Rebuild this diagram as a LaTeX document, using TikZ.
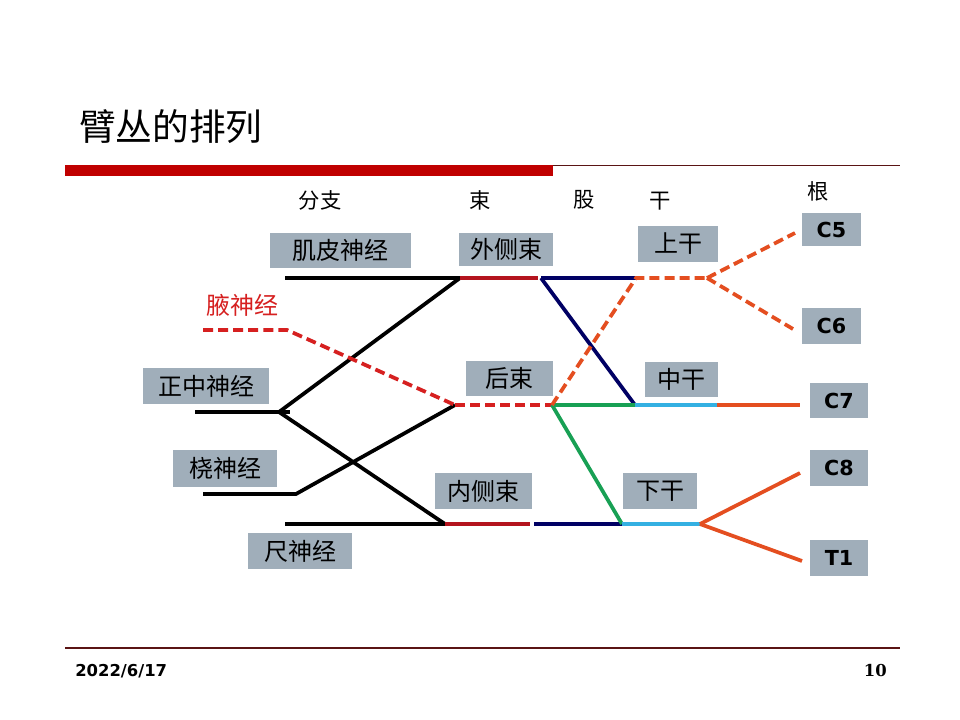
\documentclass[tikz,border=0pt]{standalone}
\usepackage{fontspec}
\newfontfamily\cjk{Noto Sans CJK SC}
\newfontfamily\lat{DejaVu Sans}
\newfontfamily\latserif{DejaVu Serif}
\definecolor{boxgray}{RGB}{160,174,186}
\definecolor{barred}{RGB}{192,0,0}
\definecolor{axred}{RGB}{214,32,32}
\definecolor{cordred}{RGB}{180,20,30}
\definecolor{rootor}{RGB}{228,78,32}
\definecolor{navyc}{RGB}{0,0,100}
\definecolor{greenc}{RGB}{24,160,84}
\definecolor{cyanc}{RGB}{52,176,226}
\definecolor{rulec}{RGB}{90,20,20}
\tikzset{
  box/.style={fill=boxgray, inner sep=0pt, font=\cjk\fontsize{18pt}{20pt}\selectfont},
  rbox/.style={fill=boxgray, inner sep=0pt, font=\lat\bfseries\fontsize{15.5pt}{17pt}\selectfont},
  hdr/.style={font=\cjk\fontsize{16pt}{18pt}\selectfont, inner sep=0pt},
  ln/.style={line width=2.8pt},
  dsh/.style={line width=2.8pt, dash pattern=on 7.5pt off 3.8pt},
}
\begin{document}
\begin{tikzpicture}[x=0.75pt,y=-0.75pt]
\fill[white] (0,0) rectangle (960,720);
\useasboundingbox (0,0) rectangle (960,720);
% title and rules
\node[anchor=west, inner sep=0pt, font=\cjk\fontsize{27.5pt}{30pt}\selectfont] (title) at (79,127) {臂丛的排列};
\fill[barred] (65,165) rectangle (553,176);
\draw[rulec, line width=0.8pt] (553,165.5) -- (900,165.5);
\draw[rulec, line width=0.8pt] (65,648) -- (900,648);
\node[anchor=west, inner sep=0pt, font=\lat\bfseries\fontsize{12.3pt}{14pt}\selectfont] (date) at (75,671) {2022/6/17};
\node[anchor=east, inner sep=0pt, font=\latserif\bfseries\fontsize{12.3pt}{14pt}\selectfont] (page) at (887,671) {10};
% headers
\node[hdr] (h1) at (320,200) {分支};
\node[hdr] (h2) at (480,200) {束};
\node[hdr] (h3) at (584,200) {股};
\node[hdr] (h4) at (660,201) {干};
\node[hdr] (h5) at (818,191) {根};
% boxes
\node[box, minimum width={141*0.75pt}, minimum height={35*0.75pt}] (mc) at (340.5,250.5) {肌皮神经};
\node[box, minimum width={94*0.75pt}, minimum height={33*0.75pt}] (lat) at (506,249.5) {外侧束};
\node[box, minimum width={80*0.75pt}, minimum height={36*0.75pt}] (sup) at (678,244) {上干};
\node[rbox, minimum width={59*0.75pt}, minimum height={33*0.75pt}] (c5) at (831.5,229.5) {C5};
\node[rbox, minimum width={59*0.75pt}, minimum height={36*0.75pt}] (c6) at (831.5,326) {C6};
\node[box, minimum width={87*0.75pt}, minimum height={35*0.75pt}] (post) at (509.5,378.5) {后束};
\node[box, minimum width={73*0.75pt}, minimum height={35*0.75pt}] (mid) at (681.5,379.5) {中干};
\node[rbox, minimum width={58*0.75pt}, minimum height={35*0.75pt}] (c7) at (839,400.5) {C7};
\node[box, minimum width={126*0.75pt}, minimum height={36*0.75pt}] (med) at (206,386) {正中神经};
\node[box, minimum width={104*0.75pt}, minimum height={37*0.75pt}] (rad) at (225,468.5) {桡神经};
\node[box, minimum width={97*0.75pt}, minimum height={36*0.75pt}] (medc) at (483.5,491) {内侧束};
\node[box, minimum width={74*0.75pt}, minimum height={36*0.75pt}] (inf) at (660,491) {下干};
\node[rbox, minimum width={58*0.75pt}, minimum height={36*0.75pt}] (c8) at (839,468) {C8};
\node[box, minimum width={104*0.75pt}, minimum height={36*0.75pt}] (uln) at (300,551) {尺神经};
\node[rbox, minimum width={58*0.75pt}, minimum height={36*0.75pt}] (t1) at (839,558) {T1};
\node[font=\cjk\fontsize{18pt}{20pt}\selectfont, text=axred, inner sep=0pt] (ax) at (242,305) {腋神经};
% junction coordinates
\coordinate (mcL) at (285,278);
\coordinate (latL) at (460,278);
\coordinate (latM) at (538,278);
\coordinate (latN) at (541,278);
\coordinate (supL) at (636,278);
\coordinate (supR) at (707,278);
\coordinate (medJ) at (279,412);
\coordinate (medL) at (195,412);
\coordinate (medE) at (290,412);
\coordinate (ulnL) at (285,524);
\coordinate (medcL) at (445,524);
\coordinate (radL) at (203,494);
\coordinate (radJ) at (296,494);
\coordinate (axL) at (203,330);
\coordinate (axJ) at (287,330);
\coordinate (postL) at (455,405);
\coordinate (postR) at (552,405);
\coordinate (midL) at (635,405);
\coordinate (midR) at (717,405);
\coordinate (c7E) at (800,405);
\coordinate (medcR) at (530,524);
\coordinate (navL) at (534,524);
\coordinate (infL) at (622,524);
\coordinate (infR) at (700,524);
\coordinate (c5E) at (795,233);
\coordinate (c6E) at (793,329);
\coordinate (c8E) at (800,473);
\coordinate (t1E) at (802,561);
% black branches
\draw[ln] (mcL) -- (latL);
\draw[ln] (medL) -- (medE);
\draw[ln, line join=miter] (latL) -- (medJ) -- (medcL);
\draw[ln] (ulnL) -- (medcL);
\draw[ln] (radL) -- (radJ) -- (postL);
% axillary dashed
\draw[dsh, axred] (axL) -- (axJ) -- (postL);
\draw[dsh, axred] (postL) -- (postR);
% cords
\draw[ln, cordred] (latL) -- (latM);
\draw[ln, cordred] (medcL) -- (medcR);
\draw[ln, navyc] (latN) -- (supL);
\draw[ln, navyc] (latN) -- (midL);
\draw[ln, navyc] (navL) -- (infL);
\draw[ln, greenc] (postR) -- (midL);
\draw[ln, greenc] (postR) -- (infL);
% trunks
\draw[dsh, rootor] (postR) -- (supL) -- (supR);
\draw[ln, cyanc] (midL) -- (midR);
\draw[ln, cyanc] (infL) -- (infR);
% roots
\draw[dsh, rootor] (supR) -- (c5E);
\draw[dsh, rootor] (supR) -- (c6E);
\draw[ln, rootor] (midR) -- (c7E);
\draw[ln, rootor] (infR) -- (c8E);
\draw[ln, rootor] (infR) -- (t1E);
\end{tikzpicture}
\end{document}
